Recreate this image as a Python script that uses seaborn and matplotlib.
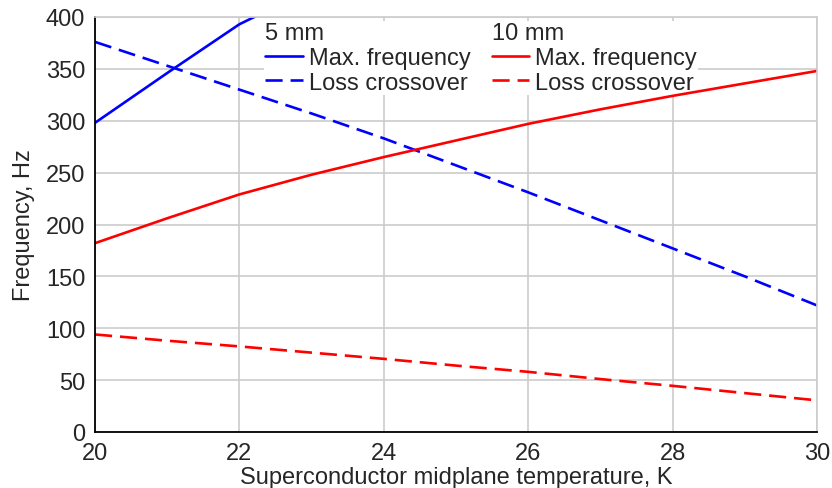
import numpy as np
import pandas as pd
import matplotlib
matplotlib.use("Agg")
import matplotlib.pyplot as plt
import seaborn as sns
from matplotlib.lines import Line2D

# ---- data ----
temp = [20, 21, 22, 23, 24, 25, 26, 27, 28, 29, 30]
maxf_5mm = [298, 346, 393, 427, np.nan, np.nan, np.nan, np.nan, np.nan, np.nan, np.nan]
loss_5mm = [376, 353, 330, 307, 283, 257, 231, 204, 177, 150, 122]
maxf_10mm = [182, 206, 229, 248, 265, 281, 297, 311, 324, 336, 348]
loss_10mm = [94, 88, 82.5, 76.5, 70.5, 64, 58, 51, 44.5, 37.5, 30.5]

sizes = ["5 mm", "10 mm"]
kinds = ["Max. frequency", "Loss crossover"]
xticks = [20, 22, 24, 26, 28, 30]
yticks = [0, 50, 100, 150, 200, 250, 300, 350, 400]

rows = []
for size, kind, vals in [("5 mm", kinds[0], maxf_5mm), ("5 mm", kinds[1], loss_5mm),
                         ("10 mm", kinds[0], maxf_10mm), ("10 mm", kinds[1], loss_10mm)]:
    for t, v in zip(temp, vals):
        rows.append({"T": t, "f": v, "size": size, "kind": kind})
df = pd.DataFrame(rows).dropna()

sns.set_style("white")
plt.rcParams["font.family"] = ["Liberation Sans", "DejaVu Sans"]

fig = plt.figure(figsize=(8.32, 4.89), dpi=100)
ax = fig.add_axes([95 / 832, 1 - 433 / 489, 722 / 832, 415 / 489])

palette = {"5 mm": "#0000ff", "10 mm": "#ff0000"}
dash_pat = (6.5, 3.0)
dashes = {"Max. frequency": "", "Loss crossover": dash_pat}
sns.lineplot(data=df, x="T", y="f", hue="size", style="kind", palette=palette,
             dashes=dashes, linewidth=1.9, ax=ax, legend=False, sort=True)

ax.set_xlim(20, 30)
ax.set_ylim(0, 400)
ax.set_xticks(xticks)
ax.set_yticks(yticks)
ax.grid(True, color="#cccccc", linewidth=1.2)
ax.set_axisbelow(True)
for s in ["top", "right"]:
    ax.spines[s].set_color("#cccccc")
    ax.spines[s].set_linewidth(1.2)
for s in ["left", "bottom"]:
    ax.spines[s].set_color("black")
    ax.spines[s].set_linewidth(1.3)
ax.tick_params(axis="both", direction="in", length=9, width=1.2, labelsize=17, color="black")
ax.tick_params(axis="y", pad=7)
ax.tick_params(axis="x", pad=7.5)
ax.set_xlabel("Superconductor midplane temperature, K", fontsize=17, labelpad=1)
ax.set_ylabel("Frequency, Hz", fontsize=17, labelpad=8)

# legend with column headers
blank = Line2D([], [], color="none")
handles = [blank,
           Line2D([], [], color=palette["5 mm"], lw=1.9),
           Line2D([], [], color=palette["5 mm"], lw=1.9, dashes=dash_pat),
           blank,
           Line2D([], [], color=palette["10 mm"], lw=1.9),
           Line2D([], [], color=palette["10 mm"], lw=1.9, dashes=dash_pat)]
labels = [sizes[0], kinds[0], kinds[1], sizes[1], kinds[0], kinds[1]]
hl, htp = 1.6, 0.25
leg = ax.legend(handles, labels, ncol=2, loc="upper left",
                bbox_to_anchor=((264 - 95) / 722, 1.0 - 4.0 / 415), borderaxespad=0.0,
                frameon=True, fancybox=False, edgecolor="none", facecolor="white",
                framealpha=1.0, fontsize=17, handlelength=hl, handletextpad=htp,
                columnspacing=0.9, labelspacing=0.12, borderpad=0.04)
leg.set_zorder(1.5)
shift = (hl + htp) * 17 * fig.dpi / 72
for i in (0, 3):
    leg.get_texts()[i].set_x(-shift)

fig.savefig("out.png", dpi=100)
